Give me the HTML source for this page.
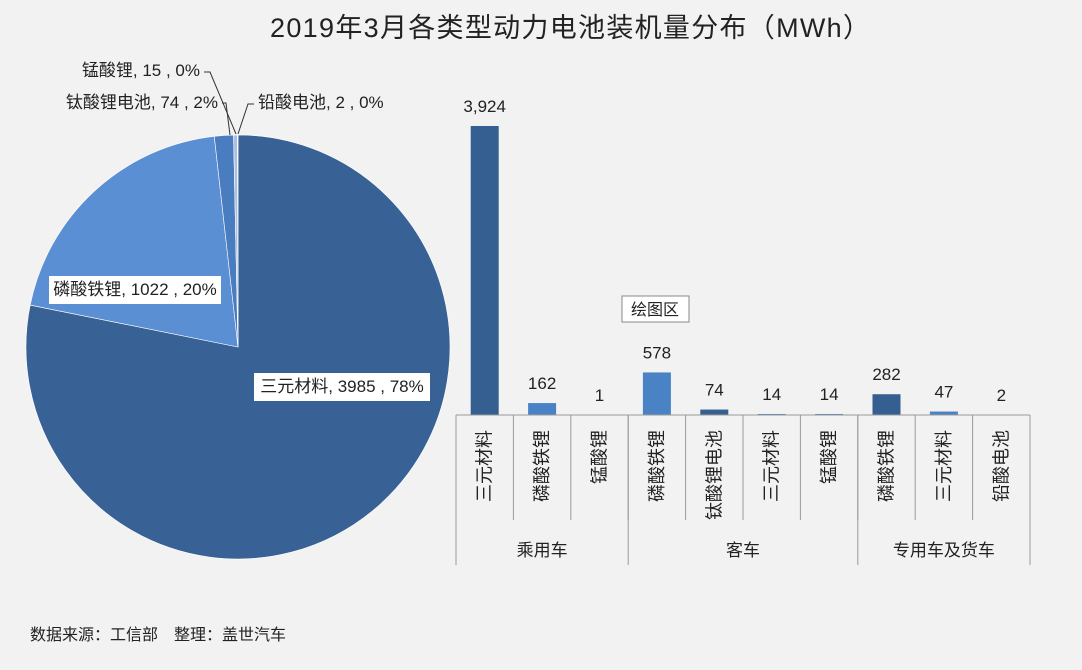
<!DOCTYPE html>
<html><head><meta charset="utf-8"><style>
body{margin:0;width:1082px;height:670px;background:#f2f2f2;overflow:hidden;font-family:"Liberation Sans","Noto Sans CJK SC",sans-serif;}
svg{position:absolute;left:0;top:0}
text{font-family:"Liberation Sans","Noto Sans CJK SC",sans-serif;fill:#222}
</style></head><body>
<svg id="c" width="1082" height="670">
<text x="270" y="37" textLength="600" font-size="27">2019年3月各类型动力电池装机量分布（MWh）</text>
<g id="pie"></g>
<g id="bars"></g>
<g><rect x="622" y="296" width="67" height="26" fill="#fff" stroke="#888"/><text x="655" y="315" text-anchor="middle" font-size="16">绘图区</text></g>
<text x="30" y="640" font-size="16">数据来源：工信部　整理：盖世汽车</text>
</svg>
<script>
const pieNames=["三元材料","磷酸铁锂","钛酸锂电池","锰酸锂","铅酸电池"];
const pieValues=[3985,1022,74,15,2];
const piePcts=["78%","20%","2%","0%","0%"];
const pieColors=["#386195","#5b8fd3","#4a7cc0","#a9c0e0","#c8d4e8"];
const barCats=["三元材料","磷酸铁锂","锰酸锂","磷酸铁锂","钛酸锂电池","三元材料","锰酸锂","磷酸铁锂","三元材料","铅酸电池"];
const barValues=[3924,162,1,578,74,14,14,282,47,2];
const groupNames=["乘用车","客车","专用车及货车"];
const groupSizes=[3,4,3];
const NS="http://www.w3.org/2000/svg";
function mk(t,a,p){const e=document.createElementNS(NS,t);for(const k in a)e.setAttribute(k,a[k]);p.appendChild(e);return e;}
// pie
const pg=document.getElementById('pie');const pcx=238,pcy=347,pr=212;
const tot=pieValues.reduce((a,b)=>a+b,0);let ang=0;
const lblPos=[[342,392,"middle"],[135,295,"middle"],[218,108,"end"],[200,76,"end"],[258,108,"start"]];
pieValues.forEach((v,i)=>{const a0=ang,a1=ang+v/tot*2*Math.PI;ang=a1;
const sx=pcx+pr*Math.sin(a0),sy=pcy-pr*Math.cos(a0),ex=pcx+pr*Math.sin(a1),ey=pcy-pr*Math.cos(a1);
const p=mk('path',{d:`M${pcx},${pcy}L${sx},${sy}A${pr},${pr} 0 ${a1-a0>Math.PI?1:0} 1 ${ex},${ey}Z`,fill:pieColors[i],stroke:"#fff","stroke-width":0.6},pg);


const txt=pieNames[i]+", "+v+" , "+piePcts[i];const [lx,ly,anc]=lblPos[i];
if(i<2){mk('rect',{x:lx-(i==0?88:86),y:ly-19,width:i==0?176:172,height:28,fill:"#fff"},pg);}
const t=mk('text',{x:lx,y:ly,"text-anchor":anc,"font-size":17},pg);t.textContent=txt;


});
mk('polyline',{points:"222,103 226,103 230,135",fill:"none",stroke:"#333"},pg);
mk('polyline',{points:"204,72 210,72 236,134",fill:"none",stroke:"#333"},pg);
mk('polyline',{points:"254,104 248,104 238,134",fill:"none",stroke:"#333"},pg);
// bars
const bg=document.getElementById('bars');const bx0=456,bx1=1030,base=415,yTop=126,vmax=3924;
const cw=(bx1-bx0)/barCats.length;
const ys=v=>base-(v/vmax)*(base-yTop);
barValues.forEach((v,i)=>{const cxb=bx0+cw*(i+0.5);
const dark=[0,4,7].includes(i);
const b=mk('rect',{x:cxb-14,y:ys(v),width:28,height:base-ys(v),fill:dark?"#365f91":"#4a82c6"},bg);


const t=mk('text',{x:cxb,y:ys(v)-14,"text-anchor":"middle","font-size":17},bg);t.textContent=v.toLocaleString('en-US');


const c=mk('text',{x:0,y:0,"font-size":18,"text-anchor":"end",transform:`translate(${cxb+6},430) rotate(-90)`},bg);c.textContent=barCats[i];


if(i>0)mk('line',{x1:bx0+cw*i,y1:base,x2:bx0+cw*i,y2:520,stroke:"#999"},bg);
});
mk('line',{x1:bx0,y1:base,x2:bx1,y2:base,stroke:"#999"},bg);
let s=0;mk('line',{x1:bx0,y1:base,x2:bx0,y2:565,stroke:"#999"},bg);
groupNames.forEach((g,k)=>{const a=bx0+cw*s;s+=groupSizes[k];const b=bx0+cw*s;
mk('line',{x1:b,y1:base,x2:b,y2:565,stroke:"#999"},bg);
const t=mk('text',{x:(a+b)/2,y:556,"text-anchor":"middle","font-size":17},bg);t.textContent=g;

});
</script>
</body></html>
